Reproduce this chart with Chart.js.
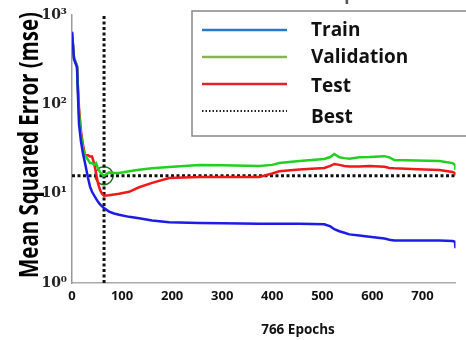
<!DOCTYPE html>
<html>
<head>
<meta charset="utf-8">
<script src="https://cdn.jsdelivr.net/npm/chart.js@4.4.1/dist/chart.umd.min.js"></script>
<style>
  html,body{margin:0;padding:0;background:#fff;}
  #wrap{width:466px;height:340px;position:relative;}
</style>
</head>
<body>
<div id="wrap"><canvas id="chart" width="466" height="340"></canvas></div>
<script>
// epochs
const epochs = [0,4,10,12,14,18,22,26,32,36,40,44,48,52,56,60,64,74,84,94,114,134,160,194,254,300,374,400,414,454,504,516,524,534,544,554,574,594,624,634,644,690,734,760,765,766];
const train = [640,320,260,120,60,38,28,22,15,12,10.5,9.6,8.8,8.1,7.6,7.2,6.9,6.3,6.0,5.8,5.5,5.3,5.0,4.8,4.7,4.65,4.6,4.6,4.6,4.6,4.55,4.3,4.0,3.8,3.65,3.5,3.4,3.3,3.15,3.05,3.0,3.0,3.0,2.95,2.9,2.45];
const validation = [620,330,270,140,80,45,32,27,24,22,22,21,22,19,17.5,16.5,15.9,17.3,17,17,17.8,18.5,19.2,19.9,21,20.8,20.4,21,22,23.2,24.5,25.7,27.8,25.5,25,24.6,25.5,25.7,26.3,25.5,23.8,23.5,23.2,22,21,18.5];
const test = [650,330,270,150,90,50,35,27,27,26,26,22,17,13,11,10,9.5,9.6,9.8,10,10.5,11.8,13.2,15,15.4,15.4,15.4,16.8,17.8,18.6,19.4,20.5,21.5,21,20.4,20.2,20.2,20.4,20,19.4,19.2,18.8,18.4,17.5,17,16];
const bestEpoch = 64;
const bestValue = 15.9;
const xTicks = [0,100,200,300,400,500,600,700];
const yTicks = [1,10,100,1000];
const legendLabels = ['Train','Validation','Test','Best'];
const totalEpochs = 766;

const sup = {0:'\u2070',1:'\u00B9',2:'\u00B2',3:'\u00B3'};
const legendColors = ['#2a78c8','#86b456','#e8202a','#222'];

function pts(ys){ return epochs.map((e,i)=>({x:e,y:ys[i]})); }

const textPlugin = {
  id:'texts',
  afterDraw(chart){
    const ctx = chart.ctx;
    ctx.save();
    // title, mostly cut off at top
    ctx.fillStyle = '#555';
    ctx.font = 'bold 17px "Open Sans"';
    ctx.textAlign = 'left';
    ctx.textBaseline = 'alphabetic';
    ctx.fillText('Best Validation Performance is 15.9 at epoch 64', 8, 0);

    // y title
    ctx.fillStyle = '#000';
    ctx.font = 'bold 26px "Open Sans"';
    const yt = 'Mean Squared Error (mse)';
    const w = ctx.measureText(yt).width;
    ctx.translate(30, 145);
    ctx.rotate(-Math.PI/2);
    ctx.scale(266/w, 1);
    ctx.textAlign = 'center';
    ctx.textBaseline = 'middle';
    ctx.fillText(yt, 0, 1);
    ctx.restore();

    ctx.save();
    ctx.fillStyle = '#111';
    ctx.font = 'bold 13.5px "Open Sans"';
    ctx.textAlign = 'center';
    ctx.textBaseline = 'middle';
    ctx.fillText(totalEpochs + ' Epochs', 298, 330);

    // legend box
    ctx.fillStyle = '#fff';
    ctx.fillRect(192, 11, 290, 125);
    ctx.strokeStyle = '#888';
    ctx.lineWidth = 1.5;
    ctx.strokeRect(192, 11, 290, 125);
    const rows = [30, 57, 84, 111];
    const textRows = [31, 58, 87, 118];
    legendLabels.forEach((lab,i)=>{
      ctx.beginPath();
      ctx.strokeStyle = legendColors[i];
      if(i===3){ ctx.setLineDash([1.5,2]); ctx.lineWidth = 2; }
      else { ctx.setLineDash([]); ctx.lineWidth = 2.5; }
      ctx.moveTo(202, rows[i]);
      ctx.lineTo(287, rows[i]);
      ctx.stroke();
      ctx.setLineDash([]);
      ctx.fillStyle = '#111';
      ctx.font = 'bold 19px "Open Sans"';
      ctx.textAlign = 'left';
      ctx.textBaseline = 'middle';
      ctx.fillText(lab, 311, textRows[i]);
    });
    ctx.restore();
  }
};

new Chart(document.getElementById('chart'), {
  type:'line',
  data:{
    datasets:[
      {label:'Train', data:pts(train), borderColor:'#1c1ce6', borderWidth:2.5},
      {label:'Validation', data:pts(validation), borderColor:'#22d022', borderWidth:2.5},
      {label:'Test', data:pts(test), borderColor:'#f01818', borderWidth:2.5},
      {label:'Best', data:[{x:0,y:bestValue},{x:totalEpochs,y:bestValue}], borderColor:'#111', borderWidth:3, borderDash:[3,2.5]},
      {label:'BestEpoch', data:[{x:bestEpoch,y:1},{x:bestEpoch,y:1000}], borderColor:'#111', borderWidth:3, borderDash:[3,2.5]},
      {label:'BestPoint', data:[{x:bestEpoch,y:bestValue}], showLine:false, pointRadius:9, pointBorderWidth:1.5, pointBorderColor:'#1d6e1d', pointBackgroundColor:'rgba(0,0,0,0)'}
    ]
  },
  options:{
    responsive:false,
    animation:false,
    layout:{padding:{top:15,right:10,left:0,bottom:0}},
    elements:{point:{radius:0}, line:{tension:0, borderCapStyle:'butt'}},
    plugins:{legend:{display:false}, tooltip:{enabled:false}},
    scales:{
      x:{
        type:'linear', min:0, max:totalEpochs,
        afterBuildTicks(a){ a.ticks = xTicks.map(v=>({value:v})); },
        afterFit(a){ a.height = 57; },
        grid:{display:false, drawTicks:false},
        border:{color:'#aaa', width:1.5},
        ticks:{color:'#111', padding:5, font:{family:'"Open Sans"', size:13, weight:'bold'}}
      },
      y:{
        type:'logarithmic', min:1, max:1000,
        afterBuildTicks(a){ a.ticks = yTicks.map(v=>({value:v})); },
        afterFit(a){ a.width = 72; },
        grid:{display:false, drawTicks:false},
        border:{color:'#999', width:1.5},
        ticks:{color:'#222', padding:5, font:{family:'"DejaVu Serif"', size:14, weight:'bold'},
          callback:v=>'10'+sup[Math.round(Math.log10(v))]}
      }
    }
  },
  plugins:[textPlugin]
});
</script>
</body>
</html>
